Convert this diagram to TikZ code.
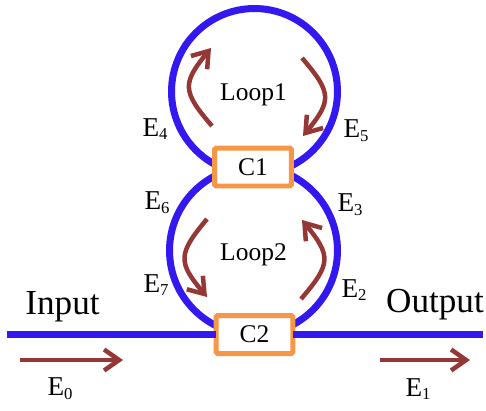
\documentclass[tikz,border=0pt]{standalone}
\usepackage{fontspec}
\setmainfont{Liberation Serif}
\definecolor{wgblue}{RGB}{51,25,240}
\definecolor{cporange}{RGB}{247,150,70}
\definecolor{arrbrown}{RGB}{149,55,53}
\usetikzlibrary{arrows.meta,positioning}
\newcommand{\Eport}[1]{E\raisebox{-.3ex}{\fontsize{9.5}{10}\selectfont #1}}

\begin{document}
\begin{tikzpicture}[x=0.02cm,y=0.02cm,
  ringnode/.style={draw=wgblue,circle,line width=0.14cm,inner sep=0pt,outer sep=0pt},
  wg/.style={draw=wgblue,line width=0.14cm},
  cpbox/.style={draw=cporange,fill=white,line width=0.1cm,rounded corners=1pt,
    minimum width=1.54cm,minimum height=0.76cm,inner sep=0pt,outer sep=0pt,
    font=\fontsize{14.5}{16}\selectfont},
  arr/.style={-{Straight Barb[length=0.3cm,width=0.42cm]},line width=0.09cm,arrbrown},
  looplab/.style={font=\fontsize{14.5}{16}\selectfont,inner sep=0pt},
  portlab/.style={font=\fontsize{15.5}{17}\selectfont,inner sep=0pt},
  iolab/.style={font=\fontsize{20}{22}\selectfont,inner sep=0pt}
]
  \useasboundingbox (0,0) rectangle (486,410);

  % Rings and couplers
  \node[ringnode,minimum size=3.32cm] (loopA) at (254.5,318.5) {};
  \node[ringnode,minimum size=3.36cm] (loopB) at (253.5,159.5) {};
  \node[cpbox] (C1) at (253,243) {C1};
  \node[cpbox] (C2) at (254.5,75.5) {C2};

  % Bus waveguide
  \coordinate (wgin) at (7,75.5);
  \coordinate (wgout) at (483,75.5);
  \draw[wg] (wgin) -- (C2.west);
  \draw[wg] (C2.east) -- (wgout);

  % Circulating fields
  \coordinate (a1s) at (212,284);
  \coordinate (a1e) at (211,362);
  \coordinate (a2s) at (302,352);
  \coordinate (a2e) at (303,274);
  \coordinate (b1s) at (207,191);
  \coordinate (b1e) at (207,113);
  \coordinate (b2s) at (301,111);
  \coordinate (b2e) at (302,190);
  \draw[arr] (a1s) to[bend left=40,looseness=1.5] (a1e);
  \draw[arr] (a2s) to[bend left=40,looseness=1.5] (a2e);
  \draw[arr] (b1s) to[bend right=40,looseness=1.5] (b1e);
  \draw[arr] (b2s) to[bend right=40,looseness=1.5] (b2e);

  % Input and output fields
  \coordinate (e0s) at (20,50);
  \coordinate (e0e) at (123,50);
  \coordinate (e1s) at (380,50);
  \coordinate (e1e) at (470,50);
  \draw[arr] (e0s) -- (e0e);
  \draw[arr] (e1s) -- (e1e);

  % Labels
  \node[looplab] (labA) at (253.5,315) {Loop1};
  \node[looplab] (labB) at (253.5,155) {Loop2};
  \node[iolab] (input) at (62.5,103) {Input};
  \node[iolab] (output) at (435,105) {Output};
  \node[portlab] (E0) at (60,21) {\Eport{0}};
  \node[portlab] (E1) at (418,21) {\Eport{1}};
  \node[portlab] (E2) at (354,120) {\Eport{2}};
  \node[portlab] (E3) at (350,205) {\Eport{3}};
  \node[portlab] (E4) at (155,281) {\Eport{4}};
  \node[portlab] (E5) at (356,279) {\Eport{5}};
  \node[portlab] (E6) at (157,207) {\Eport{6}};
  \node[portlab] (E7) at (156,125) {\Eport{7}};
\end{tikzpicture}
\end{document}
